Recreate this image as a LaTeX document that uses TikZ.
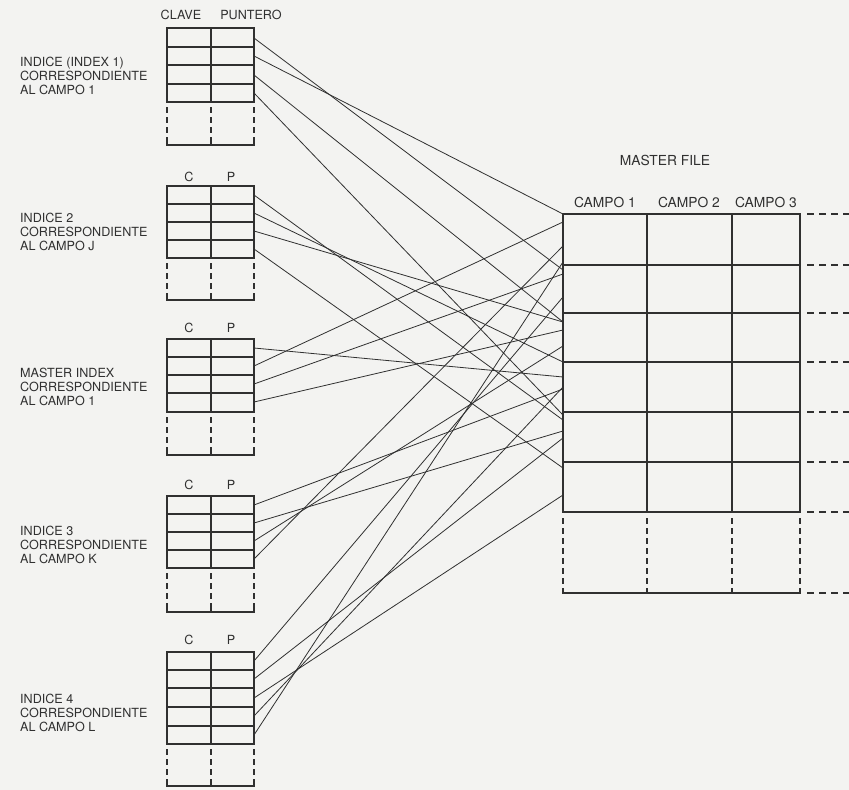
\documentclass[tikz,border=0pt]{standalone}
\usepackage{fontspec}
\setmainfont{TeX Gyre Heros}
\definecolor{ink}{RGB}{48,48,48}
\definecolor{paper}{RGB}{243,243,241}
\newcommand{\idxtab}[4]{% #1 top y, #2 list of row lines, #3 last solid y, #4 bottom y
  \foreach \yy in {#2}{\draw[tbl] (167,\yy) -- (254,\yy);}
  \foreach \xx in {167,211,254}{%
    \draw[tbl] (\xx,#1) -- (\xx,#3);
    \draw[tbldash] (\xx,#3+5) -- (\xx,#4-5);
    \draw[tbl] (\xx,#4-4) -- (\xx,#4);}
  \draw[tbl] (167,#4) -- (254,#4);
}
\newcommand{\rowpts}[2]{% #1 name, #2 list of row centres
  \foreach \yy [count=\k] in {#2}{\coordinate (#1r\k) at (254,\yy);}}
\begin{document}
\begin{tikzpicture}[x=1pt,y=-1pt,
  tbl/.style={line width=1.7pt, draw=ink, line cap=rect},
  tbldash/.style={line width=1.7pt, draw=ink, dash pattern=on 6pt off 4pt},
  mdash/.style={line width=1.7pt, draw=ink, dash pattern=on 7pt off 5pt},
  conn/.style={line width=0.8pt, draw=ink},
  lbl/.style={font=\fontsize{12.6}{13.8}\selectfont, text=ink, align=left, anchor=west, inner sep=0pt},
  hdr/.style={font=\fontsize{12.6}{14}\selectfont, text=ink, inner sep=0pt},
  mhdr/.style={font=\fontsize{13.8}{15}\selectfont, text=ink, inner sep=0pt}]
\fill[paper] (0,0) rectangle (849,790);
\useasboundingbox (0,0) rectangle (849,790);

% index tables
\idxtab{28}{28,47,65,84,102}{102}{145}
\idxtab{186}{186,204,222,240,258}{258}{300}
\idxtab{339}{339,357,375,393,412}{412}{455}
\idxtab{496}{496,514,532,550,568}{568}{612}
\idxtab{652}{652,670,688,707,726,744}{744}{786}
\rowpts{t1}{38,56,75,93}
\rowpts{t2}{195,213,231,249}
\rowpts{t3}{348,366,384,402}
\rowpts{t4}{505,523,541,559}
\rowpts{t5}{661,679,698,716,735}

% headers of index tables
\node[hdr] (hclave) at (181,15) {CLAVE};
\node[hdr] (hpunt) at (251,15) {PUNTERO};
\node[hdr] (c2) at (189,177) {C};  \node[hdr] (p2) at (231,177) {P};
\node[hdr] (c3) at (189,328) {C};  \node[hdr] (p3) at (231,328) {P};
\node[hdr] (c4) at (189,485) {C};  \node[hdr] (p4) at (231,485) {P};
\node[hdr] (c5) at (189,640) {C};  \node[hdr] (p5) at (231,640) {P};

% left labels
\node[lbl] (l1) at (20,76) {INDICE (INDEX 1)\\CORRESPONDIENTE\\AL CAMPO 1};
\node[lbl] (l2) at (20,232) {INDICE 2\\CORRESPONDIENTE\\AL CAMPO J};
\node[lbl] (l3) at (20,387) {MASTER INDEX\\CORRESPONDIENTE\\AL CAMPO 1};
\node[lbl] (l4) at (20,545) {INDICE 3\\CORRESPONDIENTE\\AL CAMPO K};
\node[lbl] (l5) at (20,713) {INDICE 4\\CORRESPONDIENTE\\AL CAMPO L};

% master file
\foreach \yy in {214,265,313,362,412,462,512}{\draw[tbl] (563,\yy) -- (800,\yy);}
\foreach \xx in {563,647,732,800}{%
  \draw[tbl] (\xx,214) -- (\xx,512);
  \draw[tbldash] (\xx,518) -- (\xx,587);
  \draw[tbl] (\xx,589) -- (\xx,593);}
\draw[tbl] (563,593) -- (800,593);
\foreach \yy in {214,265,313,362,412,462,512,593}{\draw[mdash] (807,\yy) -- (852,\yy);}
\node[mhdr] (mf) at (665,160) {MASTER FILE};
\node[mhdr] (k1) at (605,202) {CAMPO 1};
\node[mhdr] (k2) at (689,202) {CAMPO 2};
\node[mhdr] (k3) at (766,202) {CAMPO 3};

% end points on the master file
\foreach \yy in {214,222,246,262,270,274,297,322,330,346,362,377,387,389,415,420,431,438,468,495}{%
  \coordinate (mf\yy) at (563,\yy);}

% pointers
\draw[conn] (t1r1) -- (mf270);
\draw[conn] (t1r2) -- (mf214);
\draw[conn] (t1r3) -- (mf322);
\draw[conn] (t1r4) -- (mf415);
\draw[conn] (t2r1) -- (mf420);
\draw[conn] (t2r2) -- (mf362);
\draw[conn] (t2r3) -- (mf322);
\draw[conn] (t2r4) -- (mf468);
\draw[conn] (t3r1) -- (mf377);
\draw[conn] (t3r2) -- (mf222);
\draw[conn] (t3r3) -- (mf274);
\draw[conn] (t3r4) -- (mf330);
\draw[conn] (t4r1) -- (mf389);
\draw[conn] (t4r2) -- (mf431);
\draw[conn] (t4r3) -- (mf346);
\draw[conn] (t4r4) -- (mf246);
\draw[conn] (t5r1) -- (mf297);
\draw[conn] (t5r2) -- (mf438);
\draw[conn] (t5r3) -- (mf495);
\draw[conn] (t5r4) -- (mf387);
\draw[conn] (t5r5) -- (mf262);
\end{tikzpicture}
\end{document}
